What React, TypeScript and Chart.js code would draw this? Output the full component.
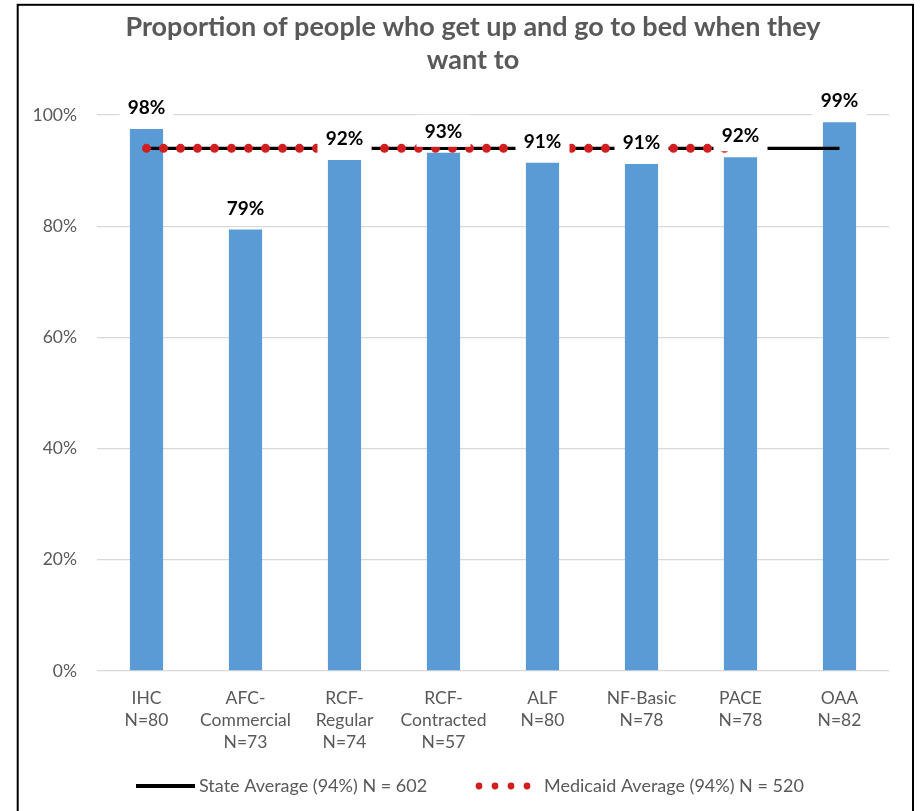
import React, { useEffect, useRef } from "react";
import { Chart, registerables } from "chart.js";

Chart.register(...registerables);

const TITLE_LINES = ["Proportion of people who get up and go to bed when they", "want to"];
const CATEGORIES = [
  ["IHC", "N=80"],
  ["AFC-", "Commercial", "N=73"],
  ["RCF-", "Regular", "N=74"],
  ["RCF-", "Contracted", "N=57"],
  ["ALF", "N=80"],
  ["NF-Basic", "N=78"],
  ["PACE", "N=78"],
  ["OAA", "N=82"],
];
const VALUES = [97.5, 79.4, 91.9, 93.2, 91.4, 91.2, 92.4, 98.7];
const VALUE_LABELS = ["98%", "79%", "92%", "93%", "91%", "91%", "92%", "99%"];
const STATE_AVG = [94, 94, 94, 94, 94, 94, 94, 94];
const MEDICAID_AVG = [94, 94, 94, 94, 94, 94, 94, null];
const LEGEND_LABELS = ["State Average (94%) N = 602", "Medicaid Average (94%) N = 520"];

const FONT = "Lato";
const GRAY = "#595959";
const BAR_COLOR = "#5B9BD5";
const RED = "#D11F1F";

const decorPlugin = {
  id: "decor",
  beforeDraw(chart: any) {
    const ctx = chart.ctx;
    ctx.save();
    ctx.fillStyle = "#ffffff";
    ctx.fillRect(0, 0, chart.width, chart.height);
    ctx.strokeStyle = "#000000";
    ctx.lineWidth = 2;
    ctx.strokeRect(17.7, 4.8, 895.3, 900);
    ctx.fillStyle = GRAY;
    ctx.font = `bold 27px ${FONT}`;
    ctx.textAlign = "center";
    ctx.textBaseline = "middle";
    ctx.fillText(TITLE_LINES[0], 473, 27);
    ctx.fillText(TITLE_LINES[1], 473, 60);
    ctx.restore();
  },
  afterDatasetsDraw(chart: any) {
    const ctx = chart.ctx;
    const meta = chart.getDatasetMeta(0);
    ctx.save();
    meta.data.forEach((bar: any, i: number) => {
      const x = bar.x;
      const cy = bar.y - 22;
      ctx.fillStyle = "#ffffff";
      ctx.fillRect(x - 27, cy - 16, 54, 32);
      ctx.fillStyle = "#000000";
      ctx.font = `bold 19px ${FONT}`;
      ctx.textAlign = "center";
      ctx.textBaseline = "middle";
      ctx.fillText(VALUE_LABELS[i], x, cy + 1);
    });
    ctx.restore();
  },
  afterDraw(chart: any) {
    const ctx = chart.ctx;
    const ly = 786;
    ctx.save();
    ctx.strokeStyle = "#000000";
    ctx.lineWidth = 4;
    ctx.beginPath();
    ctx.moveTo(136, ly);
    ctx.lineTo(195, ly);
    ctx.stroke();
    ctx.fillStyle = GRAY;
    ctx.font = `18px ${FONT}`;
    ctx.textAlign = "left";
    ctx.textBaseline = "middle";
    ctx.fillText(LEGEND_LABELS[0], 199, ly);
    ctx.fillStyle = RED;
    [479, 495, 511, 527].forEach((dx) => {
      ctx.beginPath();
      ctx.arc(dx, ly, 3.4, 0, Math.PI * 2);
      ctx.fill();
    });
    ctx.fillStyle = GRAY;
    ctx.fillText(LEGEND_LABELS[1], 544, ly);
    ctx.restore();
  },
};

export default function App() {
  const ref = useRef<HTMLCanvasElement | null>(null);
  useEffect(() => {
    if (!ref.current) return;
    const chart = new Chart(ref.current, {
      type: "bar",
      data: {
        labels: CATEGORIES as any,
        datasets: [
          {
            type: "bar",
            label: "Proportion",
            data: VALUES,
            backgroundColor: BAR_COLOR,
            barPercentage: 0.335,
            categoryPercentage: 1,
            order: 3,
          },
          {
            type: "line",
            label: LEGEND_LABELS[0],
            data: STATE_AVG,
            borderColor: "#000000",
            borderWidth: 3.2,
            pointRadius: 0,
            fill: false,
            order: 2,
          },
          {
            type: "line",
            label: LEGEND_LABELS[1],
            data: MEDICAID_AVG as any,
            borderColor: RED,
            borderWidth: 9,
            borderDash: [0, 17],
            borderCapStyle: "round",
            pointRadius: 0,
            fill: false,
            spanGaps: false,
            order: 1,
          },
        ],
      },
      options: {
        responsive: false,
        animation: false,
        layout: { padding: { top: 115, right: 31, left: 0, bottom: 0 } },
        plugins: {
          legend: { display: false },
          title: { display: false },
          tooltip: { enabled: false },
        },
        scales: {
          x: {
            grid: { display: false, drawTicks: false },
            border: { display: false },
            ticks: {
              color: GRAY,
              font: { family: FONT, size: 17.5, lineHeight: 1.257 },
              padding: 16,
              maxRotation: 0,
              autoSkip: false,
            },
            afterFit: (s: any) => {
              s.height = 140;
            },
          },
          y: {
            min: 0,
            max: 100,
            ticks: {
              stepSize: 20,
              callback: (v: any) => v + "%",
              color: GRAY,
              font: { family: FONT, size: 17.5 },
              padding: 20,
            },
            grid: { color: "#d9d9d9", lineWidth: 1.3, drawTicks: false },
            border: { display: false },
            afterFit: (s: any) => {
              s.width = 97;
            },
          },
        },
      },
      plugins: [decorPlugin],
    } as any);
    return () => chart.destroy();
  }, []);
  return (
    <div style={{ position: "absolute", left: 0, top: 0, width: 920, height: 811 }}>
      <canvas ref={ref} width={920} height={811} style={{ display: "block" }} />
    </div>
  );
}
